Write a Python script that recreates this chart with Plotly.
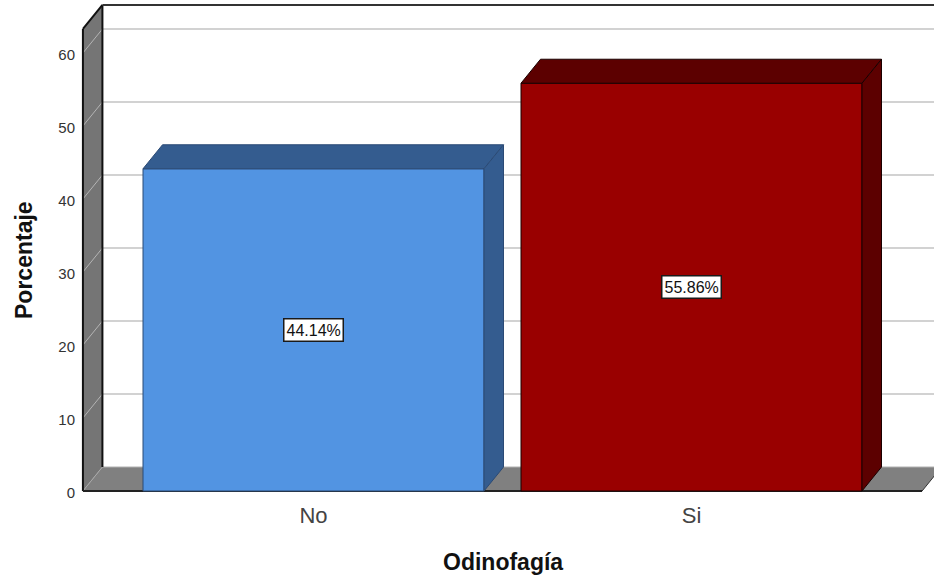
import plotly.graph_objects as go

# Chart data
categories = ["No", "Si"]
percentages = [44.14, 55.86]
labels = ["44.14%", "55.86%"]
y_ticks = [0, 10, 20, 30, 40, 50, 60]
x_title = "Odinofagía"
y_title = "Porcentaje"

# Colours
front_colors = ["#5294E2", "#990000"]
shade_colors = ["#345C8F", "#5C0000"]
edge_colors = ["#2B4A75", "#1A0000"]
WALL = "#757575"
FLOOR = "#808080"
GRID = "#D2D2D2"
FONT = "Liberation Sans, Arial, sans-serif"

# Canvas and scale of the pseudo-3D box
W, H = 934, 579
PX_PER_CAT = 378.0
PX_PER_UNIT = 7.3
X0_PX, Y0_PX = 313.5, 491.0
M_L, M_T, M_B = 80, 3, 84
DEPTH_X = 19.5 / PX_PER_CAT
DEPTH_Y = 24.0 / PX_PER_UNIT
BAR_W = 341.0 / PX_PER_CAT
SIDE_PAD = 0.61
WALL_TOP = 63.3

x_range = [(M_L - X0_PX) / PX_PER_CAT, (W - X0_PX) / PX_PER_CAT]
y_range = [-(H - M_B - Y0_PX) / PX_PER_UNIT, (Y0_PX - M_T) / PX_PER_UNIT]
left = -SIDE_PAD
right = 1 + SIDE_PAD
back_x = left + DEPTH_X
back_top = WALL_TOP + DEPTH_Y


def poly(points, fill, line="rgba(0,0,0,0)", width=1):
    path = "M " + " L ".join(f"{a},{b}" for a, b in points) + " Z"
    return dict(type="path", path=path, fillcolor=fill, layer="below",
                line=dict(color=line, width=width), xref="x", yref="y")


def seg(x0, y0, x1, y1, color, width=1):
    return dict(type="line", x0=x0, y0=y0, x1=x1, y1=y1, layer="below",
                line=dict(color=color, width=width), xref="x", yref="y")


shapes = [
    # Left wall and floor
    poly([(left, 0), (back_x, DEPTH_Y), (back_x, back_top), (left, WALL_TOP)], WALL),
    poly([(left, 0), (right, 0), (right + DEPTH_X, DEPTH_Y), (back_x, DEPTH_Y)], FLOOR),
]

# Grid lines run across the wall and along the back plane
for t in y_ticks[1:]:
    shapes.append(seg(left, t, back_x, t + DEPTH_Y, "#B4B4B4", 1))
    shapes.append(seg(back_x, t + DEPTH_Y, x_range[1], t + DEPTH_Y, GRID, 2))

shapes += [
    seg(back_x, DEPTH_Y, x_range[1], DEPTH_Y, "#B0B0B0", 1),
    seg(left, 0, back_x, DEPTH_Y, "#A8A8A8", 1),
    seg(left, 0, left, WALL_TOP, "#111111", 2),
    seg(left, WALL_TOP, back_x, back_top, "#111111", 2),
    seg(back_x, DEPTH_Y, back_x, back_top, "#111111", 2),
    seg(back_x, back_top, x_range[1], back_top, "#333333", 2),
    seg(left, 0, right, 0, "#222222", 2),
    seg(right, 0, right + DEPTH_X, DEPTH_Y, "#333333", 1),
]

fig = go.Figure()

# Front faces
fig.add_trace(go.Bar(
    x=[0, 1], y=percentages, width=BAR_W,
    marker=dict(color=front_colors, line=dict(color=edge_colors, width=1)),
    showlegend=False, hoverinfo="skip",
))

# Top and side faces of each bar
for i, v in enumerate(percentages):
    a, b = i - BAR_W / 2, i + BAR_W / 2
    fig.add_trace(go.Scatter(
        x=[a, b, b + DEPTH_X, a + DEPTH_X, a], y=[v, v, v + DEPTH_Y, v + DEPTH_Y, v],
        mode="lines", fill="toself", fillcolor=shade_colors[i],
        line=dict(color=edge_colors[i], width=1), showlegend=False, hoverinfo="skip",
    ))
    fig.add_trace(go.Scatter(
        x=[b, b + DEPTH_X, b + DEPTH_X, b, b], y=[0, DEPTH_Y, v + DEPTH_Y, v, 0],
        mode="lines", fill="toself", fillcolor=shade_colors[i],
        line=dict(color=edge_colors[i], width=1), showlegend=False, hoverinfo="skip",
    ))

annotations = [
    dict(x=i, y=v / 2, text=labels[i], showarrow=False, xref="x", yref="y",
         font=dict(family=FONT, size=16, color="#111111"),
         bgcolor="#FFFFFF", bordercolor="#1A1A1A", borderwidth=1.5, borderpad=2)
    for i, v in enumerate(percentages)
]


def paper_x(px):
    return (px - M_L) / (W - M_L)


def paper_y(py):
    return 1 - (py - M_T) / (H - M_T - M_B)


annotations += [
    dict(x=paper_x(503), y=paper_y(562), xref="paper", yref="paper", text=f"<b>{x_title}</b>",
         xanchor="center", yanchor="middle", showarrow=False,
         font=dict(family=FONT, size=23, color="#111111")),
    dict(x=paper_x(24), y=paper_y(260), xref="paper", yref="paper", text=f"<b>{y_title}</b>",
         xanchor="center", yanchor="middle", showarrow=False, textangle=-90,
         font=dict(family=FONT, size=23, color="#111111")),
]

fig.update_layout(
    width=W, height=H, autosize=False,
    margin=dict(l=M_L, r=0, t=M_T, b=M_B, pad=0),
    paper_bgcolor="#FFFFFF", plot_bgcolor="#FFFFFF",
    shapes=shapes, annotations=annotations,
    xaxis=dict(range=x_range, tickvals=[0, 1], ticktext=categories, showgrid=False,
               zeroline=False, showline=False, ticks="outside", ticklen=1,
               tickcolor="rgba(0,0,0,0)",
               tickfont=dict(family=FONT, size=22, color="#444444")),
    yaxis=dict(range=y_range, tickvals=y_ticks, showgrid=False, zeroline=False, showline=False,
               ticks="outside", ticklen=1, tickcolor="rgba(0,0,0,0)", ticklabelshift=2,
               tickfont=dict(family=FONT, size=15, color="#333333")),
)

fig.write_html("out.html", config={"displayModeBar": False})
